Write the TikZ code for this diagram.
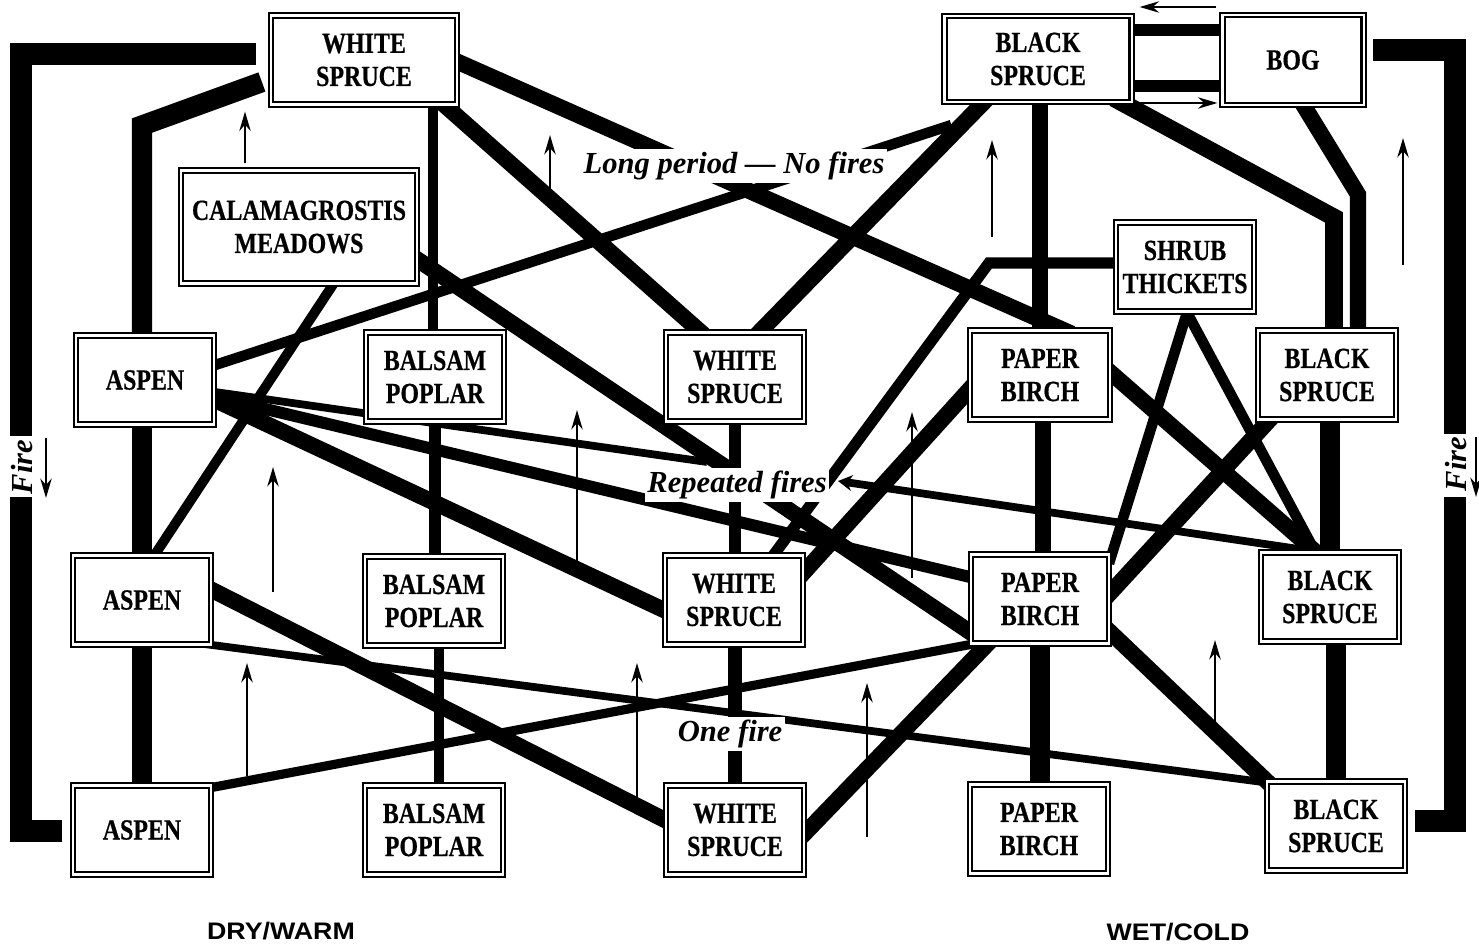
\documentclass[tikz,border=0pt]{standalone}
\usepackage{fontspec}
\setmainfont{Liberation Serif}
\newfontfamily\boxfont[FakeStretch=0.82, FakeBold=0.5]{Liberation Serif}
\newfontfamily\zonefont[FakeStretch=1.12]{Liberation Sans}
\usetikzlibrary{calc, arrows.meta}
\pgfdeclarelayer{edges}
\pgfsetlayers{edges,main}
\tikzset{>={Stealth[length=5.5pt,width=3.2pt]}}
\tikzset{
  site/.style={draw, line width=0.6pt, double=white, double distance=0.6pt, fill=white, align=center, inner sep=0pt, minimum width=1.38cm, minimum height=0.89cm, font=\fontsize{8.3}{9.4}\boxfont\bfseries},
  tag/.style={fill=white, inner sep=0.8pt, font=\fontsize{8.7}{10}\selectfont\bfseries\itshape},
  zone/.style={font=\fontsize{6.8}{8}\zonefont\bfseries},
  link/.style={shorten <=-3pt, shorten >=-3pt},
  firebar/.style={line width=6pt},
  trunk/.style={link, line width=5.8pt},
  heavy/.style={link, line width=4.6pt},
  mid/.style={link, line width=3.2pt},
  slim/.style={link, line width=2.2pt},
  riser/.style={->, line width=0.8pt}
}
\begin{document}
\begin{tikzpicture}[x=0.01cm, y=-0.01cm]
\useasboundingbox (0,0) rectangle (1479,946);

\node[site, minimum width=1.86cm] (wst) at (364,60) {WHITE\\SPRUCE};
\node[site, minimum width=2.36cm, minimum height=1.13cm] (cm) at (299,227) {CALAMAGROSTIS\\MEADOWS};
\node[site, minimum width=1.87cm, minimum height=0.86cm] (bs1) at (1038,59) {BLACK\\SPRUCE};
\node[site, minimum width=1.41cm, minimum height=0.90cm] (bog) at (1293,60) {BOG};
\node[site] (shrub) at (1185,267) {SHRUB\\THICKETS};
\node[site] (asp1) at (145,380) {ASPEN};
\node[site] (bp1) at (435,377) {BALSAM\\POPLAR};
\node[site] (ws2) at (735,377) {WHITE\\SPRUCE};
\node[site, minimum width=1.40cm] (pb1) at (1040,375) {PAPER\\BIRCH};
\node[site] (bs2) at (1327,375) {BLACK\\SPRUCE};
\node[site] (asp2) at (142,600) {ASPEN};
\node[site] (bp2) at (434,601) {BALSAM\\POPLAR};
\node[site] (ws3) at (734,600) {WHITE\\SPRUCE};
\node[site] (pb2) at (1040,599) {PAPER\\BIRCH};
\node[site] (bs3) at (1330,597) {BLACK\\SPRUCE};
\node[site] (asp3) at (142,830) {ASPEN};
\node[site] (bp3) at (434,830) {BALSAM\\POPLAR};
\node[site] (ws4) at (735,830) {WHITE\\SPRUCE};
\node[site] (pb3) at (1039,829) {PAPER\\BIRCH};
\node[site] (bs4) at (1336,826) {BLACK\\SPRUCE};

\node[tag] (lng) at (734,166) {Long period — No fires};
\node[tag] (rep) at (737,485) {Repeated fires};
\node[tag] (one) at (730,734) {One fire};
\node[tag, rotate=90] (fireL) at (22,467) {Fire};
\node[tag, rotate=90] (fireR) at (1456,464) {Fire};
\node[zone] (dry) at (281,931) {DRY/WARM};
\node[zone] (wet) at (1178,932) {WET/COLD};

\coordinate (fireLa) at (256,54);
\coordinate (fireLb) at (21,436);
\coordinate (fireLc) at (21,497);
\coordinate (fireRa) at (1373,50);
\coordinate (fireRb) at (1455,434);
\coordinate (fireRc) at (1455,497);

\begin{pgfonlayer}{edges}
\draw[firebar] (fireLa) -| (fireLb);
\draw[firebar] (fireLc) |- ($(asp3.west)+(-10,1)$);
\draw[firebar] (fireRa) -| (fireRb);
\draw[firebar] (fireRc) |- ($(bs4.east)+(9,-5)$);

\draw[trunk, shorten <=0pt] ($(wst.west)+(-8,22)$) -- ($(asp2 |- wst.south)+(0,20)$) -- (asp2 |- asp1);
\draw[trunk] (asp2 |- asp1) -- (asp2);
\draw[trunk] (asp2) -- (asp3);
\draw[mid, line width=3pt] ($(bp1)+(-2,0)$) -- ($(bp1 |- wst)+(-2,0)$);
\draw[mid, line width=3.6pt] (bp1) -- (bp1 |- bp2);
\draw[mid, line width=2.8pt] ($(bp2)+(5,0)$) -- ($(bp3)+(5,0)$);
\draw[mid, line width=2.8pt] ($(cm.south)+(34,0)$) -- ($(asp2.north)+(13,0)$);
\draw[mid, line width=3pt, shorten >=0pt] ($(asp1.east)+(0,-15)$) -- ($(bs1.south west)+(8,22)$);
\draw[heavy] ($(wst.east)+(0,2)$) -- ($(pb1.north)+(22,0)$);
\draw[heavy] ($(wst.south east)+(-13,0)$) -- ($(ws2.north)+(-35,0)$);
\draw[heavy] ($(bs1.south)+(-55,0)$) -- ($(ws2.north)+(25,0)$);
\draw[mid, line width=3.6pt] (ws2) -- (ws2 |- ws3);
\draw[heavy, line width=4.2pt] (ws4 |- ws3) -- (ws4);
\draw[heavy] (pb1 |- bs1) -- (pb1);
\draw[heavy] ($(pb1)+(3,0)$) -- ($(pb1 |- pb2)+(3,0)$);
\draw[trunk] (pb2) -- (pb2 |- pb3);
\draw[mid] ($(bs1.east)+(0,-29)$) -- ($(bog.west)+(0,-30)$);
\draw[mid] ($(bs1.east)+(0,27)$) -- ($(bog.west)+(0,26)$);
\draw[heavy, line width=5pt] ($(bs1.south)+(85,0)$) -- ($(bs2.north)+(7,-112)$) -- ($(bs2.north)+(7,0)$);
\draw[heavy] ($(bog.south)+(11,0)$) -- ($(bs2.north)+(31,-135)$) -- ($(bs2.north)+(31,0)$);
\draw[trunk] (bs3 |- bs2) -- (bs3);
\draw[trunk] (bs4 |- bs3) -- (bs4);
\draw[mid] ($(shrub.west)+(0,-4)$) -- ($(shrub.west)+(-126,-4)$) -- ($(ws3.north)+(40,0)$);
\draw[heavy] ($(pb1.west)+(0,15)$) -- ($(ws3.east)+(0,-28)$);
\draw[mid, line width=3pt] ($(shrub.south)+(2,0)$) -- ($(pb2.north east)+(2,0)$);
\draw[mid, line width=3pt] ($(shrub.south)+(2,0)$) -- ($(bs3.north)+(-15,0)$);
\draw[heavy] ($(pb1.east)+(0,-2)$) -- ($(bs3.north)+(-15,0)$);
\draw[heavy] ($(bs2.south west)+(12,0)$) -- ($(pb2.east)+(0,-6)$);
\draw[heavy] ($(asp1.east)+(0,20)$) -- ($(ws3.west)+(0,10)$);
\draw[mid, line width=3.4pt] ($(asp1.east)+(0,17)$) -- ($(pb2.west)+(0,-22)$);
\draw[slim, shorten >=0pt] ($(asp1.east)+(0,12)$) -- ($(rep)+(-30,-23)$);
\draw[slim, shorten <=0pt, {Stealth[length=4pt,width=4.5pt]}-] ($(rep)+(101,-4)$) -- ($(bs3.north)+(-15,0)$);
\draw[slim] ($(asp2.east)+(0,45)$) -- ($(bs4.north west)+(0,2)$);
\draw[slim, line width=2.6pt] ($(asp3.north east)+(0,3)$) -- (pb2.south west);
\draw[heavy] ($(cm.east)+(0,33)$) -- ($(pb2.west)+(0,33)$);
\draw[heavy] ($(asp2.east)+(0,-10)$) -- ($(ws4.west)+(0,-10)$);
\draw[heavy] ($(pb2.south west)+(17,0)$) -- ($(ws4.east)+(0,3)$);
\draw[heavy] ($(pb2.east)+(0,33)$) -- (bs4.north west);
\end{pgfonlayer}

\draw[riser] ($(cm.north)+(-54,-6)$) -- ($(wst.south)+(-119,6)$);
\foreach \x/\ya/\yb in {550/198/135, 992/237/140, 1403/265/138, 273/592/467, 577/570/410, 912/578/412, 247/776/663, 637/798/663, 867/837/683, 1215/733/640}
  \draw[riser] (\x,\ya) -- (\x,\yb);
\draw[riser] ($(bog.west)+(-5,-53)$) -- ($(bs1.east)+(7,-52)$);
\draw[riser] ($(bs1.east)+(4,44)$) -- ($(bog.west)+(-4,43)$);
\draw[riser] ($(fireL)+(24,-29)$) -- ($(fireL)+(24,31)$);
\draw[riser] ($(fireR)+(20,-27)$) -- ($(fireR)+(20,33)$);
\end{tikzpicture}
\end{document}
